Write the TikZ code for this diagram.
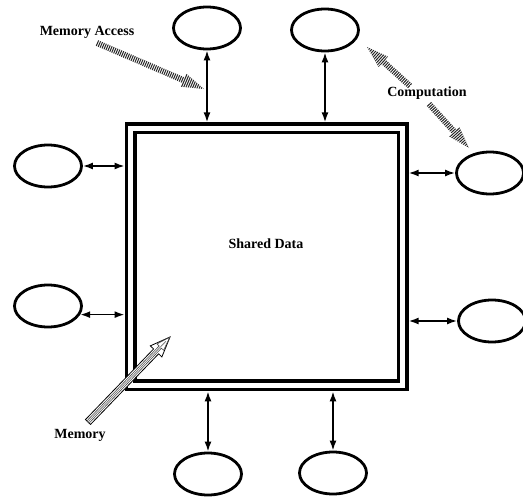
\documentclass[tikz,border=0pt]{standalone}
\usepackage{fontspec}
\setmainfont{Liberation Serif}
\usetikzlibrary{arrows.meta, calc, shapes}

\tikzset{
  proc/.style={ellipse, draw, line width=2.8pt, minimum width=67pt, minimum height=42pt, inner sep=0pt},
  link/.style={{Latex[length=10pt,width=7pt]}-{Latex[length=10pt,width=7pt]}, line width=1.7pt},
  lbl/.style={font=\bfseries\fontsize{14}{16}\selectfont, inner sep=1pt},
  hatch/.style={line width=18pt, black!85, dash pattern=on 1pt off 1.1pt},
}

% fat arrow outline from #1 to #2, shaft half width #3, head half width #4, head length #5
\newcommand{\fatpath}[5]{%
  ($(#1)!#3!90:(#2)$) -- ($($(#2)!#5!(#1)$)!#3!90:(#2)$) -- ($($(#2)!#5!(#1)$)!#4!90:(#2)$) -- (#2)
  -- ($($(#2)!#5!(#1)$)!#4!-90:(#2)$) -- ($($(#2)!#5!(#1)$)!#3!-90:(#2)$) -- ($(#1)!#3!-90:(#2)$) -- cycle}

\newcommand{\hatcharrow}[2]{%
  \begin{scope}
    \clip \fatpath{#1}{#2}{3pt}{7pt}{22pt};
    \draw[hatch] (#1) -- (#2);
  \end{scope}}

\begin{document}
\begin{tikzpicture}[x=1pt, y=-1pt]
        \useasboundingbox (0,0) rectangle (523,498);

        % Shared memory
        \node[draw, double, line width=3.5pt, double distance=5pt, outer sep=6pt,
              minimum width=272pt, minimum height=257pt, inner sep=0pt] (mem) at (266.6,256.9) {};
        \node[lbl] (shared) at (266,244) {Shared Data};

        % Processes
        \node[proc] (top1) at (207,28) {};
        \node[proc] (top2) at (325,30) {};
        \node[proc] (right1) at (490,173) {};
        \node[proc] (right2) at (492,321) {};
        \node[proc] (left1) at (48,166) {};
        \node[proc] (left2) at (48,306) {};
        \node[proc] (bot1) at (208,474) {};
        \node[proc] (bot2) at (333,473) {};

        % Accesses
        \draw[link] (top1) -- (top1 |- mem.north);
        \draw[link] (top2) -- (top2 |- mem.north);
        \draw[link] (bot1) -- (bot1 |- mem.south);
        \draw[link] (bot2) -- (bot2 |- mem.south);
        \draw[link] (right1) -- (right1 -| mem.east);
        \draw[link] (right2) -- (right2 -| mem.east);
        \draw[link] (left1) -- (left1 -| mem.west);
        \draw[link] (left2.-15) -- (left2.-15 -| mem.west);

        % Labels
        \node[lbl] (access) at (87,32) {Memory Access};
        \node[lbl] (comp) at (427,93) {Computation};
        \node[lbl] (memlbl) at (80,435) {Memory};

        \coordinate (acct) at (97,43);
        \coordinate (acch) at (204,89);
        \coordinate (compa) at (410,86);
        \coordinate (comph1) at (367,47);
        \coordinate (compb) at (429,104);
        \coordinate (comph2) at (469,148);
        \coordinate (memt) at (88,422);
        \coordinate (memh) at (170,337);

        \hatcharrow{acct}{acch}
        \hatcharrow{compa}{comph1}
        \hatcharrow{compb}{comph2}

        % hollow arrow into the memory
        \filldraw[fill=white, line width=0.8pt] \fatpath{memt}{memh}{3.5pt}{8pt}{20pt};
        \draw[line width=0.6pt, black!70] \fatpath{memt}{memh}{1.6pt}{4.5pt}{14pt};
        \draw[gray, line width=0.8pt] (memt) -- ($(memh)!6pt!(memt)$);
    \end{tikzpicture}
\end{document}
